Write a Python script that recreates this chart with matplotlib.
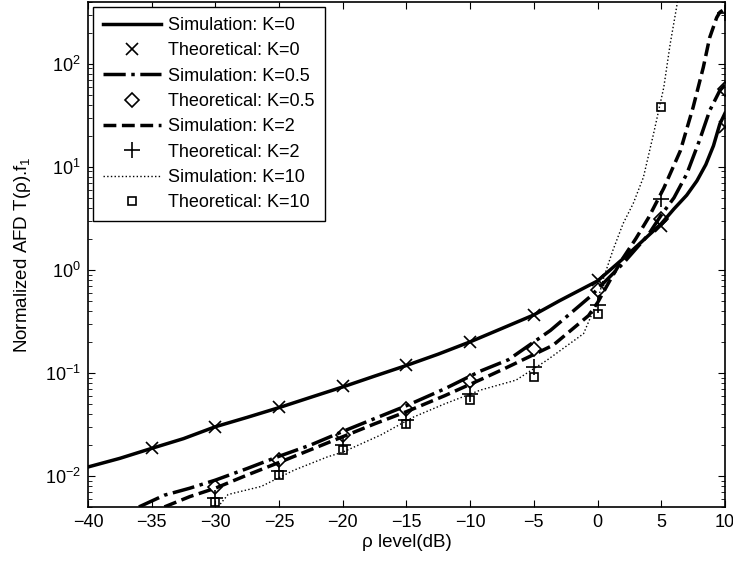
import matplotlib
matplotlib.use('Agg')
import matplotlib.pyplot as plt
import numpy as np

plt.rcParams['font.family'] = ['Liberation Sans', 'DejaVu Sans']
plt.rcParams['mathtext.fontset'] = 'custom'
plt.rcParams['mathtext.rm'] = 'Liberation Sans'
plt.rcParams['mathtext.it'] = 'Liberation Sans'

# simulation curves
x_sim0 = [-40, -37.5, -35, -32.5, -30, -27.5, -25, -22.5, -20, -17.5, -15, -12.5, -10, -7.5,
          -5, -3, 0, 2.3, 5, 6, 7, 7.8, 8.5, 9.1, 9.6, 10]
y_sim0 = [0.0122, 0.0148, 0.0185, 0.023, 0.030, 0.037, 0.046, 0.058, 0.073, 0.093, 0.118, 0.152,
          0.20, 0.27, 0.365, 0.50, 0.78, 1.38, 2.8, 3.9, 5.3, 7.3, 10.5, 16, 26, 33]

x_sim05 = [-36, -34, -32, -30, -27.5, -25, -22.5, -20, -17.5, -15, -12, -9.2, -7, -3.7, -0.5, 0,
           2, 4, 5, 6, 7, 8, 8.8, 9.6, 10]
y_sim05 = [0.005, 0.0065, 0.0076, 0.0091, 0.0118, 0.0155, 0.020, 0.027, 0.036, 0.048, 0.07,
           0.104, 0.134, 0.258, 0.56, 0.65, 1.15, 2.2, 3.4, 5.0, 8.5, 18, 35, 55, 62]

x_sim2 = [-34, -32, -30, -27.5, -25, -22.5, -20, -17.5, -15, -12, -9, -7.3, -3.5, -0.7, 0, 1, 2,
          3, 4, 5.2, 6.5, 7.5, 8.3, 8.8, 9.35, 9.6, 10]
y_sim2 = [0.005, 0.0063, 0.0076, 0.0102, 0.0135, 0.018, 0.024, 0.032, 0.042, 0.06, 0.088, 0.11,
          0.185, 0.36, 0.48, 0.8, 1.3, 2.0, 3.2, 6.2, 14.3, 37.7, 92, 179, 280, 316, 340]

x_sim10 = [-29.8, -29, -26.4, -23.8, -21.2, -20, -17, -14.5, -12, -9.2, -6.4, -4, -1.1, 0, 0.5,
           1.2, 2, 2.8, 3.6, 4.4, 5.2, 5.7, 6.2, 6.5]
y_sim10 = [0.005, 0.0066, 0.0079, 0.0114, 0.0153, 0.017, 0.025, 0.037, 0.05, 0.068, 0.085, 0.132,
           0.24, 0.5, 0.85, 1.54, 2.8, 4.4, 7.9, 21, 59, 155, 351, 600]

# theoretical points
x_th0 = [-35, -30, -25, -20, -15, -10, -5, 0, 5, 10]
y_th0 = [0.0185, 0.030, 0.047, 0.074, 0.12, 0.20, 0.365, 0.79, 2.69, 24.4]
x_th05 = [-30, -25, -20, -15, -10, -5, 0, 5, 10]
y_th05 = [0.0078, 0.0142, 0.0248, 0.045, 0.084, 0.171, 0.64, 3.12, 57.4]
x_th2 = [-30, -25, -20, -15, -10, -5, 0, 5, 10]
y_th2 = [0.0061, 0.0112, 0.020, 0.035, 0.0625, 0.115, 0.46, 4.87, 308]
x_th10 = [-30, -25, -20, -15, -10, -5, 0, 5]
y_th10 = [0.0056, 0.0101, 0.018, 0.0316, 0.054, 0.092, 0.375, 38.4]

xtick_labels = ['\u221240', '\u221235', '\u221230', '\u221225', '\u221220', '\u221215',
                '\u221210', '\u22125', '0', '5', '10']

fig = plt.figure(figsize=(7.33, 5.62), dpi=100)
ax = fig.add_axes([0.120, 0.098, 0.869, 0.899])

ax.semilogy(x_sim0, y_sim0, 'k-', lw=2.5, label='Simulation: K=0')
ax.semilogy(x_th0, y_th0, 'kx', ms=9, mew=1.2, label='Theoretical: K=0')
ax.semilogy(x_sim05, y_sim05, 'k-.', lw=2.5, label='Simulation: K=0.5')
ax.semilogy(x_th05, y_th05, 'kD', ms=7, mfc='none', mew=1.2, label='Theoretical: K=0.5')
ax.semilogy(x_sim2, y_sim2, 'k--', lw=2.5, label='Simulation: K=2')
ax.semilogy(x_th2, y_th2, 'k+', ms=11, mew=1.2, label='Theoretical: K=2')
ax.semilogy(x_sim10, y_sim10, 'k:', lw=1, label='Simulation: K=10')
ax.semilogy(x_th10, y_th10, 'ks', ms=6, mfc='none', mew=1.2, label='Theoretical: K=10')

ax.set_xlim(-40, 10)
ax.set_ylim(0.005, 400)
ax.set_xticks(np.arange(-40, 11, 5))
ax.set_xticklabels(xtick_labels)
ax.tick_params(which='both', direction='in', top=True, right=True, labelsize=13)
ax.tick_params(which='major', length=5, pad=5)
ax.tick_params(which='minor', length=3)
for s in ax.spines.values():
    s.set_linewidth(1.2)

ax.set_xlabel('\u03c1 level(dB)', fontsize=13.5, labelpad=2)
ax.set_ylabel('Normalized AFD T(\u03c1).f$_1$', fontsize=13.5, labelpad=9)

leg = ax.legend(loc='upper left', fontsize=13, handlelength=3.2, handletextpad=0.4,
                labelspacing=0.46, borderpad=0.55, fancybox=False, edgecolor='k',
                framealpha=1, borderaxespad=0.3)
leg.get_frame().set_linewidth(1.0)

fig.savefig('out.png', dpi=100)
